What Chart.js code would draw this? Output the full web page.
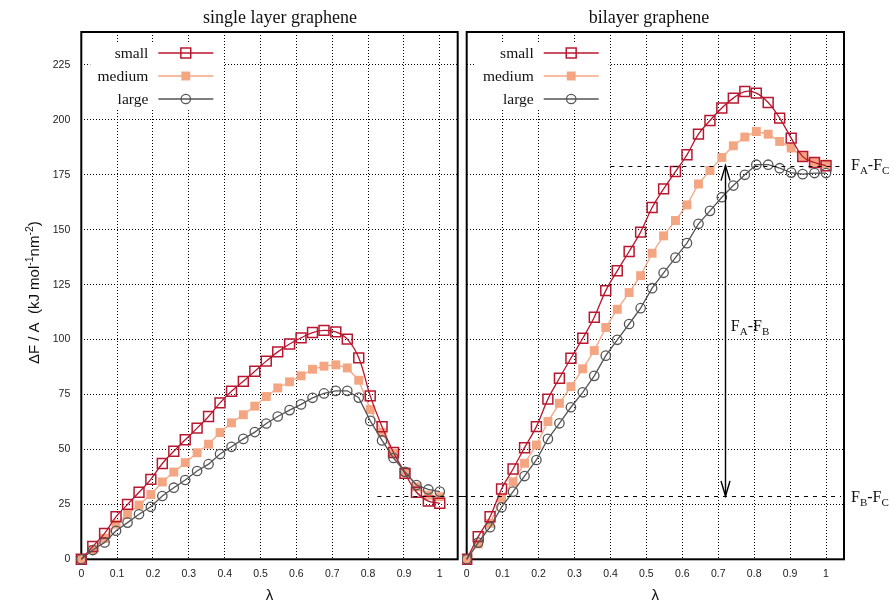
<!DOCTYPE html>
<html>
<head>
<meta charset="utf-8">
<script src="https://cdn.jsdelivr.net/npm/chart.js@4/dist/chart.umd.min.js"></script>
<style>
  html, body { margin: 0; padding: 0; background: #fff; }
  #wrap { position: relative; width: 894px; height: 606px; }
  #single { position: absolute; left: 0; top: 0; }
  #bilayer { position: absolute; left: 462px; top: 0; }
</style>
</head>
<body>
<div id="wrap">
  <canvas id="single" width="462" height="606" style="width:462px;height:606px"></canvas>
  <canvas id="bilayer" width="432" height="606" style="width:432px;height:606px"></canvas>
</div>
<script>
// coupling parameter lambda, 32 windows
const lambda = [0, 0.032, 0.065, 0.097, 0.129, 0.161, 0.194, 0.226, 0.258, 0.290,
  0.323, 0.355, 0.387, 0.419, 0.452, 0.484, 0.516, 0.548, 0.581, 0.613,
  0.645, 0.677, 0.710, 0.742, 0.774, 0.806, 0.839, 0.871, 0.903, 0.935, 0.968, 1.0];

const xTickValues = [0, 0.1, 0.2, 0.3, 0.4, 0.5, 0.6, 0.7, 0.8, 0.9, 1];
const yTickValues = [0, 25, 50, 75, 100, 125, 150, 175, 200, 225];
const seriesNames = ['small', 'medium', 'large'];

// single layer graphene
const singleSmall = [0, 5.8, 11.8, 19.4, 25, 30.5, 36.4, 43.6, 49.2, 54.4, 59.7, 65, 71.2, 76.5, 81, 85.6,
  90.2, 94.4, 98, 100.8, 103.2, 104.2, 103.5, 100.2, 91.7, 74.4, 60.3, 48.6, 39.1, 30.5, 26.5, 25.5];
const singleMedium = [0, 4.5, 9.5, 16, 20.5, 24.7, 29.5, 35.2, 39.7, 44, 48.5, 52.4, 57.7, 62.1, 65.8, 69.7,
  74.1, 78, 80.8, 83.5, 86.5, 87.9, 88.5, 87.1, 81.5, 68.2, 57.7, 48.2, 39.8, 33, 29.2, 28.5];
const singleLarge = [0, 4.2, 7.7, 13, 16.7, 20.5, 23.9, 28.8, 32.6, 36.1, 40.2, 43.3, 47.9, 51.2, 54.8, 57.9,
  61.8, 65, 67.9, 70.5, 73.5, 75.5, 76.7, 76.7, 73.6, 63, 54.1, 46.1, 39.8, 33.8, 31.8, 30.8];

// bilayer graphene
const biSmall = [0, 10.3, 19.4, 32, 41.1, 50.8, 60.4, 72.9, 82.4, 91.5, 100.6, 110.2, 122.3, 131.3, 140.1, 148.9,
  160.1, 168.6, 176.5, 184.1, 193.5, 199.7, 205.4, 209.9, 212.9, 212.2, 207.9, 200.8, 191.7, 183.3, 180.6, 179.1];
const biMedium = [0, 7, 16.4, 27.8, 35.3, 43.7, 52, 62.7, 71, 78.6, 86.7, 95, 105.5, 113.8, 121.4, 129.1,
  139.3, 147.2, 154.2, 161.3, 170.8, 177, 182.9, 188.2, 192.2, 194.7, 193.5, 190.2, 187.2, 183.3, 180.8, 179.9];
const biLarge = [0, 7.6, 14.6, 23.7, 30.8, 37.9, 45.2, 54.8, 61.9, 69.2, 76, 83.5, 92.7, 99.9, 107.1, 114.3,
  123.4, 130.4, 137.3, 143.9, 152.7, 158.6, 164.8, 170.1, 175, 179.6, 179.6, 178, 176, 175.3, 175.8, 175.8];

// reference free energy levels
const levelAC = 179.2;   // F_A - F_C
const levelBC = 28.8;    // F_B - F_C
const levelACFrom = 0.4;
const levelBCFromSingle = 0.826;
const arrowLambda = 0.72;
const arrowLabelAt = [0.735, 104];

const RED = '#b9172f', SALMON = '#f4a582', GREY = '#555555';
const SERIF = '"Liberation Serif", "Times New Roman", serif';
const SANS = '"Liberation Sans", Arial, sans-serif';

const seriesStyle = [
  { color: RED, shape: 'rect', radius: 7, fill: 'rgba(0,0,0,0)', pbw: 1.5, tension: 0.4, order: 2 },
  { color: SALMON, shape: 'rect', radius: 6.3, fill: SALMON, pbw: 0, tension: 0, order: 3 },
  { color: GREY, shape: 'circle', radius: 4.7, fill: 'rgba(0,0,0,0)', pbw: 1.3, tension: 0, order: 1 }
];

function makeDatasets(lists) {
  return lists.map((vals, k) => {
    const s = seriesStyle[k];
    return {
      label: seriesNames[k],
      data: lambda.map((x, i) => ({ x: x, y: vals[i] })),
      borderColor: s.color,
      borderWidth: 1.3,
      tension: s.tension,
      pointStyle: s.shape,
      pointRadius: s.radius,
      pointHoverRadius: s.radius,
      pointBackgroundColor: s.fill,
      pointBorderColor: s.color,
      pointBorderWidth: s.pbw,
      fill: false,
      clip: false,
      order: s.order
    };
  });
}

function marker(ctx, s, x, y) {
  ctx.save();
  ctx.beginPath();
  if (s.shape === 'rect') {
    const h = s.radius * Math.SQRT1_2;
    ctx.rect(x - h, y - h, 2 * h, 2 * h);
  } else {
    ctx.arc(x, y, s.radius, 0, Math.PI * 2);
  }
  if (s.fill !== 'rgba(0,0,0,0)') { ctx.fillStyle = s.fill; ctx.fill(); }
  if (s.pbw > 0) { ctx.lineWidth = s.pbw; ctx.strokeStyle = s.color; ctx.stroke(); }
  ctx.restore();
}

// text pieces: [text, size, baseline shift]
function richText(ctx, parts, x, y, align, family) {
  let total = 0;
  parts.forEach(p => { ctx.font = p[1] + 'px ' + family; total += ctx.measureText(p[0]).width; });
  let cx = align === 'center' ? x - total / 2 : x;
  ctx.textAlign = 'left';
  ctx.textBaseline = 'alphabetic';
  parts.forEach(p => {
    ctx.font = p[1] + 'px ' + family;
    ctx.fillText(p[0], cx, y + p[2]);
    cx += ctx.measureText(p[0]).width;
  });
}

function dashed(ctx, x1, x2, y) {
  ctx.save();
  ctx.strokeStyle = '#000';
  ctx.lineWidth = 1;
  ctx.setLineDash([4, 5]);
  ctx.beginPath();
  ctx.moveTo(x1, Math.round(y) + 0.5);
  ctx.lineTo(x2, Math.round(y) + 0.5);
  ctx.stroke();
  ctx.restore();
}

function arrowHead(ctx, x, tipY, dir) {
  ctx.beginPath();
  ctx.moveTo(x - 4.5, tipY + dir * 15);
  ctx.lineTo(x, tipY);
  ctx.lineTo(x + 4.5, tipY + dir * 15);
  ctx.stroke();
}

const panelDecor = {
  id: 'panelDecor',
  beforeDatasetsDraw(chart, args, opts) {
    const a = chart.chartArea, ctx = chart.ctx;
    ctx.save();
    ctx.strokeStyle = '#000';
    ctx.lineWidth = 2;
    ctx.strokeRect(a.left, a.top, a.right - a.left, a.bottom - a.top);
    ctx.restore();
  },
  afterDatasetsDraw(chart, args, opts) {
    const a = chart.chartArea, ctx = chart.ctx;
    const xs = chart.scales.x, ys = chart.scales.y;

    // legend
    ctx.save();
    ctx.fillStyle = '#fff';
    ctx.fillRect(a.left + 9, a.top + 11, 133, 67);
    seriesNames.forEach((name, k) => {
      const s = seriesStyle[k];
      const ry = a.top + 21 + k * 23;
      ctx.fillStyle = '#111';
      ctx.font = '15.5px ' + SERIF;
      ctx.textAlign = 'right';
      ctx.textBaseline = 'alphabetic';
      ctx.fillText(name, a.left + 67, ry + 5);
      ctx.strokeStyle = s.color;
      ctx.lineWidth = 1.3;
      ctx.beginPath();
      ctx.moveTo(a.left + 77, ry);
      ctx.lineTo(a.left + 132, ry);
      ctx.stroke();
      marker(ctx, s, a.left + 104.5, ry);
    });
    ctx.restore();

    // panel title
    ctx.save();
    ctx.fillStyle = '#111';
    ctx.font = '18px ' + SERIF;
    ctx.textAlign = 'center';
    ctx.textBaseline = 'alphabetic';
    ctx.fillText(opts.title, opts.titleX, 23);
    ctx.restore();

    ctx.save();
    ctx.fillStyle = '#111';
    if (opts.bilayer) {
      const yAC = ys.getPixelForValue(levelAC);
      const yBC = ys.getPixelForValue(levelBC);
      dashed(ctx, xs.getPixelForValue(levelACFrom), a.right - 3, yAC);
      dashed(ctx, 0, a.right - 3, yBC);

      const ax = Math.round(xs.getPixelForValue(arrowLambda)) + 0.5;
      ctx.strokeStyle = '#000';
      ctx.lineWidth = 1.4;
      ctx.beginPath();
      ctx.moveTo(ax, yAC);
      ctx.lineTo(ax, yBC);
      ctx.stroke();
      arrowHead(ctx, ax, yAC, 1);
      arrowHead(ctx, ax, yBC, -1);

      richText(ctx, [['F', 16, 0], ['A', 11, 4], ['-F', 16, 0], ['B', 11, 4]],
        xs.getPixelForValue(arrowLabelAt[0]), ys.getPixelForValue(arrowLabelAt[1]), 'left', SERIF);
      richText(ctx, [['F', 16, 0], ['A', 11, 4], ['-F', 16, 0], ['C', 11, 4]],
        a.right + 7, yAC + 4, 'left', SERIF);
      richText(ctx, [['F', 16, 0], ['B', 11, 4], ['-F', 16, 0], ['C', 11, 4]],
        a.right + 7, yBC + 6, 'left', SERIF);
    } else {
      dashed(ctx, xs.getPixelForValue(levelBCFromSingle), chart.width, ys.getPixelForValue(levelBC));

      // y axis title, rotated
      ctx.translate(39, (a.top + a.bottom) / 2 - 3);
      ctx.rotate(-Math.PI / 2);
      richText(ctx, [['\u0394F / A  (kJ mol', 15, 0], ['-1', 10.5, -6], ['nm', 15, 0], ['-2', 10.5, -6], [')', 15, 0]],
        0, 0, 'center', SANS);
    }
    ctx.restore();
  }
};

function makePanel(canvasId, lists, cfg) {
  return new Chart(document.getElementById(canvasId), {
    type: 'line',
    data: { datasets: makeDatasets(lists) },
    options: {
      responsive: false,
      animation: false,
      layout: { autoPadding: false, padding: { top: 32, right: cfg.padRight, bottom: 0, left: 0 } },
      plugins: {
        legend: { display: false },
        tooltip: { enabled: false },
        title: { display: false },
        panelDecor: cfg.decor
      },
      scales: {
        x: {
          type: 'linear',
          min: 0,
          max: 1.05,
          afterBuildTicks: s => { s.ticks = xTickValues.map(v => ({ value: v })); },
          afterFit: s => { s.height = 46.7; },
          // invisible tick marks push the labels down without widening the side padding
          grid: { color: '#000', lineWidth: 1, drawTicks: true, tickLength: 9, tickColor: 'rgba(0,0,0,0)' },
          border: { display: false, dash: [1, 2] },
          ticks: {
            padding: 0,
            color: '#222',
            font: { family: SANS, size: 10.5 },
            callback: v => String(+v.toFixed(1))
          },
          title: {
            display: true,
            text: '\u03bb',
            color: '#111',
            font: { family: SANS, size: 15 },
            padding: { top: 0, bottom: 1 }
          }
        },
        y: {
          min: 0,
          max: 240,
          afterBuildTicks: s => { s.ticks = yTickValues.map(v => ({ value: v })); },
          afterFit: s => { s.width = cfg.yWidth; },
          grid: { color: '#000', lineWidth: 1, drawTicks: false },
          border: { display: false, dash: [1, 2] },
          ticks: {
            display: cfg.yLabels,
            padding: 11,
            color: '#222',
            font: { family: SANS, size: 10.5 }
          }
        }
      }
    },
    plugins: [panelDecor]
  });
}

makePanel('single', [singleSmall, singleMedium, singleLarge], {
  padRight: 4.3, yWidth: 81.3, yLabels: true,
  decor: { title: 'single layer graphene', titleX: 280, bilayer: false }
});
makePanel('bilayer', [biSmall, biMedium, biLarge], {
  padRight: 50, yWidth: 4.7, yLabels: false,
  decor: { title: 'bilayer graphene', titleX: 187, bilayer: true }
});
</script>
</body>
</html>
